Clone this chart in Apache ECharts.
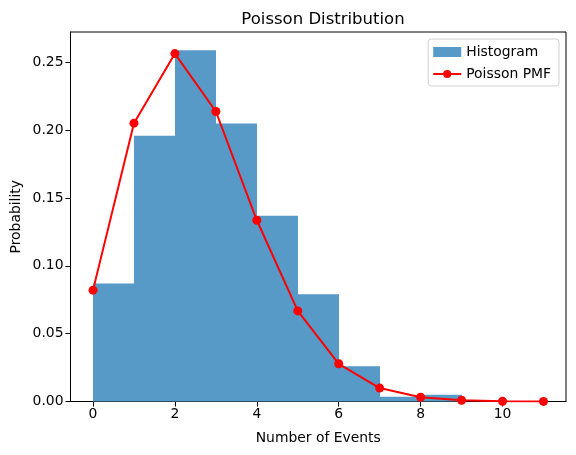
<!DOCTYPE html>
<html>
<head>
<meta charset="utf-8">
<script src="https://cdn.jsdelivr.net/npm/echarts@6/dist/echarts.min.js"></script>
<style>html,body{margin:0;padding:0;background:#fff}#c{width:576px;height:455px}</style>
</head>
<body>
<div id="c"></div>
<script>
var binEdges = [0, 1, 2, 3, 4, 5, 6, 7, 8, 9];
var histValues = [0.087, 0.196, 0.259, 0.205, 0.137, 0.079, 0.026, 0.0035, 0.005];
var pmfX = [0, 1, 2, 3, 4, 5, 6, 7, 8, 9, 10, 11];
var pmfValues = [0.0821, 0.2052, 0.2565, 0.2138, 0.1336, 0.0668, 0.0278, 0.0099, 0.0031, 0.0009, 0.0002, 0.00005];
var xTicks = [0, 2, 4, 6, 8, 10];
var yTicks = [0, 0.05, 0.10, 0.15, 0.20, 0.25];
var yTickLabels = ['0.00', '0.05', '0.10', '0.15', '0.20', '0.25'];

var histData = histValues.map(function (v, i) { return [binEdges[i], binEdges[i + 1], v]; });
var pmfData = pmfX.map(function (x, i) { return [x, pmfValues[i]]; });
var font = 'DejaVu Sans';

var chart = echarts.init(document.getElementById('c'), null, { renderer: 'canvas' });
chart.setOption({
  animation: false,
  backgroundColor: '#fff',
  title: {
    text: 'Poisson Distribution', left: 318, top: 6, textAlign: 'center',
    textStyle: { fontFamily: font, fontSize: 16.5, fontWeight: 'normal', color: '#000' }
  },
  grid: { left: 70.5, right: 10, top: 32, bottom: 53.5, containLabel: false, outerBoundsMode: 'none',
          show: true, borderColor: '#000', borderWidth: 1 },
  legend: {
    right: 17, top: 39, orient: 'vertical', itemGap: 8, itemWidth: 28, itemHeight: 10,
    padding: [6, 8, 5, 4], borderColor: '#d0d0d0', borderWidth: 1, borderRadius: 3,
    textStyle: { fontFamily: font, fontSize: 13.9, color: '#000' },
    data: [
      { name: 'Histogram', icon: 'rect' },
      { name: 'Poisson PMF' }
    ]
  },
  xAxis: {
    type: 'value', min: -0.55, max: 11.55,
    name: 'Number of Events', nameLocation: 'middle', nameGap: 30,
    nameTextStyle: { fontFamily: font, fontSize: 13.9, color: '#000' },
    axisLine: { show: true, onZero: false, lineStyle: { color: '#000', width: 1 } },
    axisTick: { show: true, length: 5, lineStyle: { color: '#000' }, customValues: xTicks },
    axisLabel: { fontFamily: font, fontSize: 13.9, color: '#000', margin: 6, customValues: xTicks },
    splitLine: { show: false }
  },
  yAxis: {
    type: 'value', min: 0, max: 0.2724,
    name: 'Probability', nameLocation: 'middle', nameGap: 47, nameRotate: 90, nameMoveOverlap: false,
    nameTextStyle: { fontFamily: font, fontSize: 13.9, color: '#000' },
    axisLine: { show: true, onZero: false, lineStyle: { color: '#000', width: 1 } },
    axisTick: { show: true, length: 5, lineStyle: { color: '#000' }, customValues: yTicks },
    axisLabel: { fontFamily: font, fontSize: 13.9, color: '#000', margin: 7, customValues: yTicks,
      formatter: function (v) {
        for (var i = 0; i < yTicks.length; i++) { if (Math.abs(yTicks[i] - v) < 1e-9) return yTickLabels[i]; }
        return '';
      } },
    splitLine: { show: false }
  },
  series: [
    {
      name: 'Histogram', type: 'custom',
      itemStyle: { color: '#5799c7' },
      encode: { x: [0, 1], y: 2 },
      renderItem: function (params, api) {
        var p0 = api.coord([api.value(0), api.value(2)]);
        var p1 = api.coord([api.value(1), 0]);
        var x0 = Math.round(p0[0]), x1 = Math.round(p1[0]);
        return {
          type: 'rect',
          shape: { x: x0, y: p0[1], width: x1 - x0, height: p1[1] - p0[1] },
          style: { fill: '#5799c7' }
        };
      },
      data: histData, z: 1
    },
    {
      name: 'Poisson PMF', type: 'line', data: pmfData,
      symbol: 'circle', symbolSize: 9, showAllSymbol: true,
      lineStyle: { color: '#ff0000', width: 2 },
      itemStyle: { color: '#ff0000', borderWidth: 0 },
      z: 3
    }
  ]
});
</script>
</body>
</html>
